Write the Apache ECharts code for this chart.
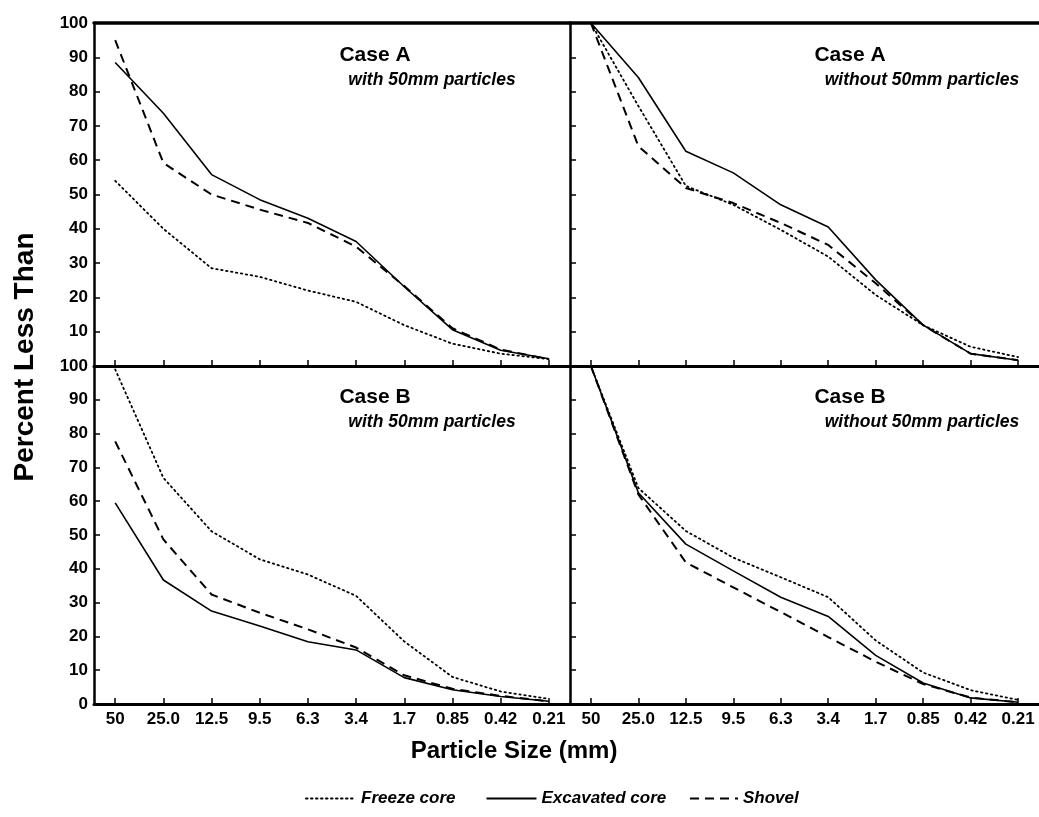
<!DOCTYPE html>
<html>
<head>
<meta charset="utf-8">
<script src="https://cdn.jsdelivr.net/npm/echarts@6/dist/echarts.min.js"></script>
<style>
  html, body { margin: 0; padding: 0; background: #fff; }
  #chart { width: 1039px; height: 817px; }
</style>
</head>
<body>
<div id="chart"></div>
<script>
// 粒径类别 (mm)
const sizes = ['50', '25.0', '12.5', '9.5', '6.3', '3.4', '1.7', '0.85', '0.42', '0.21'];
const yTicks = [0, 10, 20, 30, 40, 50, 60, 70, 80, 90, 100];

// Case A, with 50mm particles
const freezeAWith = [54, 40, 28.5, 26, 22, 18.7, 11.9, 6.5, 3.6, 2];
const excavAWith = [88.5, 73.7, 55.8, 48.5, 43.1, 36.3, 23.1, 10.6, 4.6, 2.1];
const shovelAWith = [95, 59.2, 50, 45.6, 41.7, 34.8, 23.3, 11, 4.8, 2];
// Case A, without 50mm particles
const freezeAWithout = [100, 75.8, 52.5, 47, 39.7, 31.9, 20.7, 11.9, 5.6, 2.6];
const excavAWithout = [100, 84.1, 62.6, 56.3, 47, 40.5, 25.1, 11.9, 3.6, 1.7];
const shovelAWithout = [100, 64.1, 51.9, 47.5, 41.7, 35.3, 24.1, 11.9, 3.6, 1.7];
// Case B, with 50mm particles
const freezeBWith = [99, 66.9, 51.1, 42.8, 38.3, 32, 18.5, 8, 3.7, 1.5];
const excavBWith = [59.5, 36.7, 27.5, 23.1, 18.4, 16, 7.8, 4.2, 2.2, 0.8];
const shovelBWith = [77.7, 48.7, 32.4, 27, 22.1, 16.7, 8.5, 4.5, 2.4, 0.8];
// Case B, without 50mm particles
const freezeBWithout = [100, 63.9, 51.2, 43.3, 37.5, 31.6, 18.8, 9.3, 4.1, 1.2];
const excavBWithout = [100, 62.5, 47.3, 39.4, 31.6, 25.9, 14.4, 6.2, 1.8, 0.5];
const shovelBWithout = [100, 62, 41.9, 34.5, 27.2, 19.8, 12.5, 5.9, 1.9, 0.5];

const FONT = '"Liberation Sans", Arial, sans-serif';

document.addEventListener('DOMContentLoaded', function() {
    const chart = echarts.init(document.getElementById('chart'));

    const panels = [
        {grid: {left: 94, top: 23, width: 476, height: 343}, xLabels: false, yLabels: true, hideZero: true, topLine: true,
         title: 'Case A', sub: 'with 50mm particles', tx: 375, sx: 432, ty: 55,
         data: [freezeAWith, excavAWith, shovelAWith]},
        {grid: {left: 570, top: 23, width: 477, height: 343}, xLabels: false, yLabels: false, topLine: true,
         title: 'Case A', sub: 'without 50mm particles', tx: 850, sx: 922, ty: 55,
         data: [freezeAWithout, excavAWithout, shovelAWithout]},
        {grid: {left: 94, top: 366, width: 476, height: 338}, xLabels: true, yLabels: true, hideZero: false,
         title: 'Case B', sub: 'with 50mm particles', tx: 375, sx: 432, ty: 397,
         data: [freezeBWith, excavBWith, shovelBWith]},
        {grid: {left: 570, top: 366, width: 477, height: 338}, xLabels: true, yLabels: false,
         title: 'Case B', sub: 'without 50mm particles', tx: 850, sx: 922, ty: 397,
         data: [freezeBWithout, excavBWithout, shovelBWithout]}
    ];

    const names = ['Freeze core', 'Excavated core', 'Shovel'];
    const styles = [
        {type: [1.5, 3.5], width: 1.8, cap: 'round'},
        {type: 'solid', width: 1.6},
        {type: [9, 6], width: 2}
    ];
    const idx = sizes.map((s, i) => i);

    const grids = [], xAxes = [], yAxes = [], series = [], graphics = [];
    panels.forEach(function(p, k) {
        grids.push(Object.assign({show: false}, p.grid));
        xAxes.push({
            type: 'value', gridIndex: k, min: -0.44, max: 9.44,
            axisLine: {show: true, onZero: false, lineStyle: {color: '#000', width: 3}},
            axisTick: {show: true, inside: true, length: 6, customValues: idx, lineStyle: {color: '#000', width: 1.5}},
            axisLabel: {
                show: p.xLabels, customValues: idx, margin: 7,
                color: '#000', fontFamily: FONT, fontWeight: 'bold', fontSize: 17,
                formatter: function(v) { return sizes[Math.round(v)]; }
            },
            splitLine: {show: false}
        });
        yAxes.push({
            type: 'value', gridIndex: k, min: 0, max: 100, interval: 10,
            axisLine: {show: true, onZero: false, lineStyle: {color: '#000', width: 2.5}},
            axisTick: {show: true, inside: true, length: 6, lineStyle: {color: '#000', width: 1.5}},
            axisLabel: {
                show: p.yLabels, showMinLabel: !p.hideZero, margin: 6,
                color: '#000', fontFamily: FONT, fontWeight: 'bold', fontSize: 17
            },
            splitLine: {show: false}
        });
        p.data.forEach(function(arr, j) {
            series.push({
                name: names[j], type: 'line', xAxisIndex: k, yAxisIndex: k,
                symbol: 'none', color: '#000',
                lineStyle: Object.assign({color: '#000'}, styles[j]),
                data: arr.map((v, i) => [i, v])
            });
        });
        graphics.push({
            type: 'text', x: p.tx, y: p.ty,
            style: {text: p.title, font: 'bold 21px ' + FONT, fill: '#000', align: 'center', verticalAlign: 'middle'}
        });
        graphics.push({
            type: 'text', x: p.sx, y: p.ty + 25,
            style: {text: p.sub, font: 'italic bold 17.5px ' + FONT, fill: '#000', align: 'center', verticalAlign: 'middle'}
        });
    });

    // 上边框（仅上排）
    panels.forEach(function(p, k) {
        if (!p.topLine) return;
        xAxes.push({
            type: 'value', gridIndex: k, position: 'top', min: -0.44, max: 9.44,
            axisLine: {show: true, onZero: false, lineStyle: {color: '#000', width: 3.5}},
            axisTick: {show: false}, axisLabel: {show: false}, splitLine: {show: false}
        });
    });

    // 轴标题
    graphics.push({
        type: 'text', x: 25, y: 357, rotation: Math.PI / 2,
        style: {text: 'Percent Less Than', font: 'bold 28px ' + FONT, fill: '#000', align: 'center', verticalAlign: 'middle'}
    });
    graphics.push({
        type: 'text', x: 514, y: 751,
        style: {text: 'Particle Size (mm)', font: 'bold 24px ' + FONT, fill: '#000', align: 'center', verticalAlign: 'middle'}
    });

    const legendText = {color: '#000', fontFamily: FONT, fontStyle: 'italic', fontWeight: 'bold', fontSize: 17};
    const legendItem = {color: 'rgba(0,0,0,0)', borderWidth: 0, opacity: 0};

    chart.setOption({
        animation: false,
        backgroundColor: '#fff',
        grid: grids,
        xAxis: xAxes,
        yAxis: yAxes,
        series: series,
        graphic: graphics,
        legend: [
            {data: names.slice(0, 2), left: 300, top: 785, itemWidth: 50, itemHeight: 14, itemGap: 30,
             itemStyle: legendItem, textStyle: legendText},
            {data: names.slice(2), left: 684, top: 785, itemWidth: 48, itemHeight: 14,
             itemStyle: legendItem, textStyle: legendText}
        ]
    });
});
</script>
</body>
</html>
